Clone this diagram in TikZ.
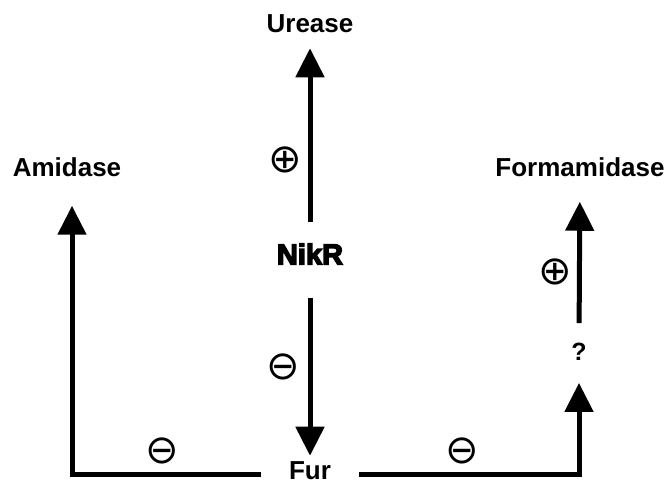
\documentclass[tikz,border=0pt]{standalone}
\usepackage{fontspec}
\setmainfont{Liberation Sans}
\newfontfamily\symfont{DejaVu Sans}
\newfontfamily\heavyfont[BoldFeatures={FakeBold=5}]{Liberation Sans}
\usetikzlibrary{arrows.meta}
\begin{document}
\begin{tikzpicture}[x=1pt, y=-1pt, font=\fontsize{26}{30}\selectfont\bfseries, line join=miter,
    lbl/.style={inner sep=0pt},
    sgn/.style={inner sep=0pt, font=\fontsize{40}{44}\selectfont\symfont},
    arr/.style={line width=5pt, -{Triangle[width=28pt,length=29pt]}}]
  \useasboundingbox (0,0) rectangle (667,484);
  % genes and regulators
  \node[lbl] (urease) at (310,24) {Urease};
  \node[lbl] (amidase) at (67,167) {Amidase};
  \node[lbl] (formamidase) at (580,167) {Formamidase};
  \node[lbl, font=\fontsize{29}{32}\selectfont\heavyfont\bfseries] (nikr) at (310,254) {NikR};
  \node[lbl] (fur) at (310,471) {Fur};
  \node[lbl, font=\fontsize{25}{28}\selectfont\bfseries] (q) at (579,352) {?};
  % signs
  \node[sgn] (plusUre) at (285,160) {⊕};
  \node[sgn] (plusForm) at (555,272) {⊕};
  \node[sgn] (minusNik) at (283,367) {⊖};
  \node[sgn] (minusAmi) at (162,451) {⊖};
  \node[sgn] (minusForm) at (462,451) {⊖};
  % arrows
  \draw[arr, shorten <=21pt, shorten >=15pt] (nikr.north) -- (urease.south);
  \draw[arr, shorten <=33pt, shorten >=6pt] (nikr.south) -- (fur.north);
  \draw[arr, shorten >=29pt] ([xshift=-28pt,yshift=-3pt]fur.west) -| ([xshift=5pt]amidase.south);
  \draw[arr, shorten >=22pt] ([xshift=28pt,yshift=-3pt]fur.east) -| (q.south);
  \draw[arr, shorten <=20pt, shorten >=25pt] (q.north) -- (formamidase.south);
\end{tikzpicture}
\end{document}
